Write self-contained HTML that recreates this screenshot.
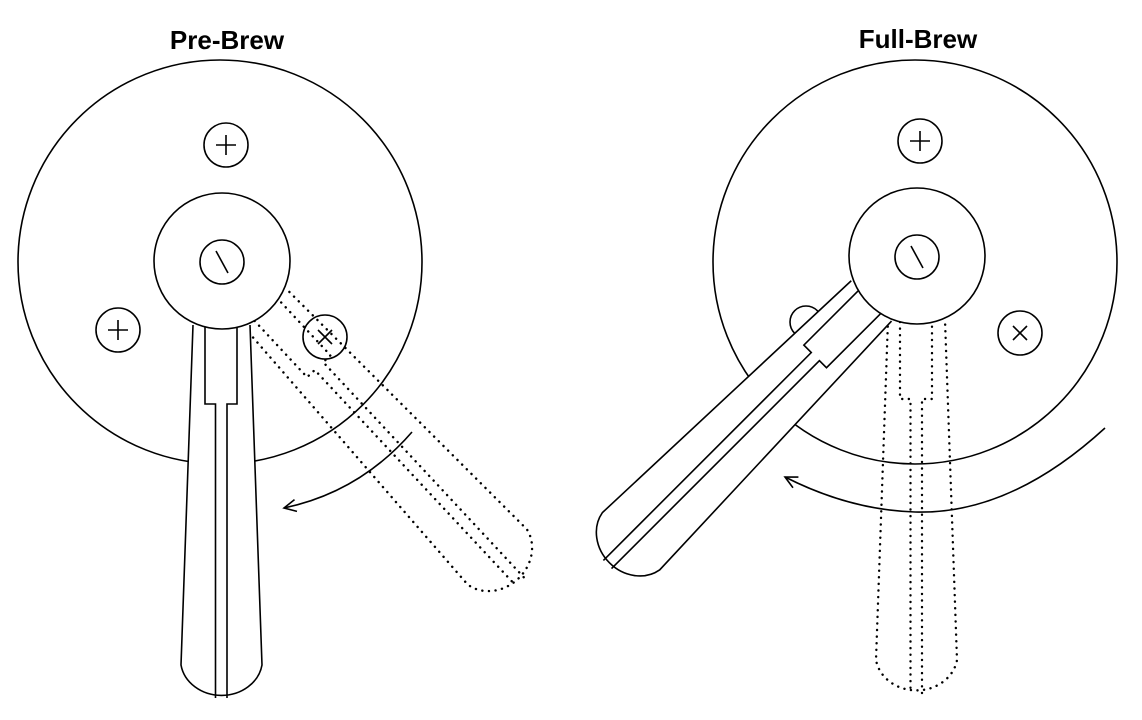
<!DOCTYPE html>
<html><head><style>body{margin:0;background:#fff}svg{display:block}</style></head>
<body>
<svg width="1142" height="720" viewBox="0 0 1142 720" xmlns="http://www.w3.org/2000/svg">
<defs>
<marker id="ah" markerWidth="16" markerHeight="16" refX="13" refY="7" orient="auto" markerUnits="userSpaceOnUse">
<path d="M1 1 L13 7 L1 13" fill="none" stroke="#000" stroke-width="1.6"/>
</marker>
<g id="handle">
<path d="M -29 64 L -41 404 A 41 36 0 0 0 40 404 L 28 64" />
<path d="M -17 66 L -17 143 L -6.5 143 L -6.5 437 M 5 437 L 5 143 L 15 143 L 15 66" />
</g>
<g id="handleFill">
<path d="M -29 64 L -41 404 A 41 36 0 0 0 40 404 L 28 64 Z" fill="#fff" stroke="none"/>
</g>
</defs>
<g font-family="Liberation Sans, sans-serif" font-weight="bold" font-size="26" text-anchor="middle">
<text x="227" y="49">Pre-Brew</text>
<text x="918" y="48">Full-Brew</text>
</g>
<g fill="none" stroke="#000" stroke-width="1.6">
<!-- LEFT -->
<circle cx="220" cy="262" r="202"/>
<circle cx="226" cy="145" r="22"/><path d="M226 135V155M216 145H236"/>
<circle cx="118" cy="330" r="22"/><path d="M118 320V340M108 330H128"/>
<circle cx="325" cy="337" r="22"/><path d="M318 330L332 344M332 330L318 344"/>
<g transform="translate(222 261) rotate(-43)" stroke-dasharray="0.1 6.5" stroke-linecap="round" stroke-width="2.4"><use href="#handle"/></g>
<g transform="translate(222 261)"><use href="#handleFill"/><use href="#handle"/></g>
<circle cx="222" cy="261" r="68" fill="#fff"/>
<circle cx="222" cy="262" r="22"/><path d="M216 251L228 273"/>
<path d="M412 432 Q 360 492 284 508" marker-end="url(#ah)"/>
<!-- RIGHT -->
<circle cx="915" cy="262" r="202"/>
<circle cx="920" cy="141" r="22"/><path d="M920 131V151M910 141H930"/>
<circle cx="1020" cy="333" r="22"/><path d="M1013 326L1027 340M1027 326L1013 340"/>
<circle cx="806" cy="322" r="16"/>
<g transform="translate(917 256)" stroke-dasharray="0.1 6.5" stroke-linecap="round" stroke-width="2.4"><use href="#handle"/></g>
<g transform="translate(917 256) rotate(45)"><use href="#handleFill"/><use href="#handle"/></g>
<circle cx="917" cy="256" r="68" fill="#fff"/>
<circle cx="917" cy="257" r="22"/><path d="M911 246L923 268"/>
<path d="M1105 428 Q 1010 515 915 512 Q 850 510 785 477" marker-end="url(#ah)"/>
</g>
</svg>
</body></html>
